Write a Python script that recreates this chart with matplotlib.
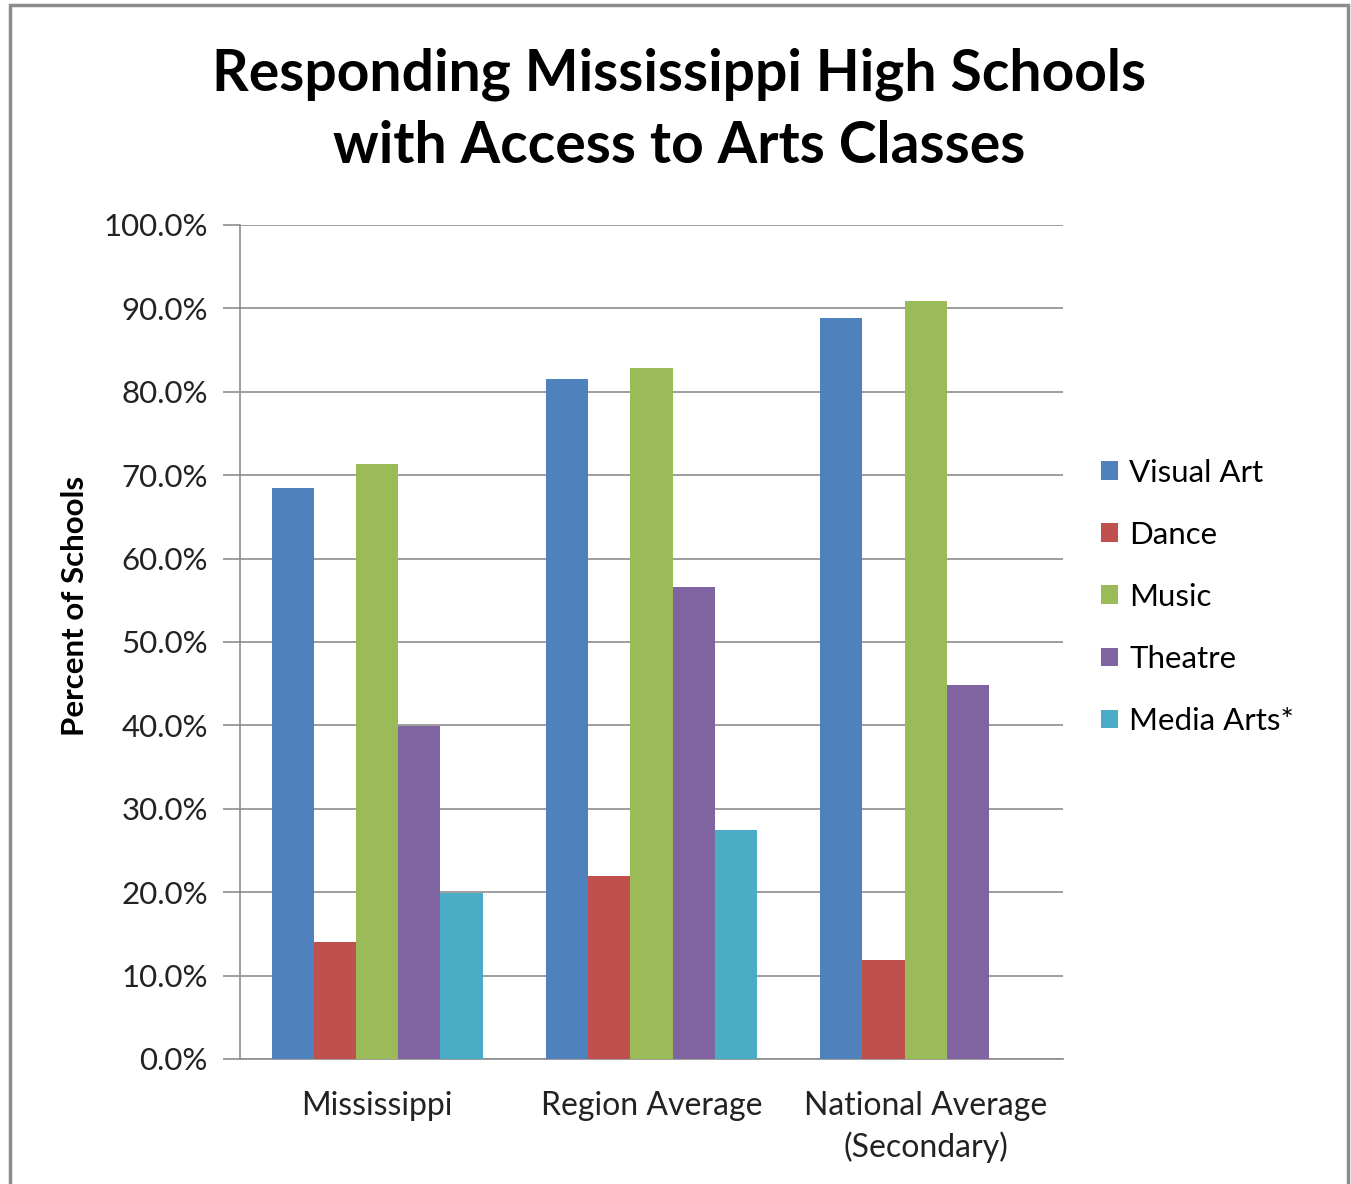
"""
Grouped bar chart: Mississippi high schools with access to arts classes.
"""

import numpy as np
import matplotlib.pyplot as plt
from matplotlib.patches import Rectangle

plt.rcParams["font.family"] = ["Lato", "DejaVu Sans"]

groups = ["Mississippi", "Region Average", "National Average\n(Secondary)"]
series = ["Visual Art", "Dance", "Music", "Theatre", "Media Arts*"]
visual_art = [68.5, 81.5, 88.8]
dance = [14.0, 21.9, 11.9]
music = [71.3, 82.9, 90.9]
theatre = [39.9, 56.6, 44.8]
media_arts = [19.9, 27.5, np.nan]

colors = ["#4f81bd", "#c0504d", "#9bbb59", "#8064a2", "#4bacc6"]
values = [visual_art, dance, music, theatre, media_arts]

fig = plt.figure(figsize=(13.51, 11.84), dpi=100)
ax = fig.add_axes([0.1776, 0.1056, 0.6092, 0.7044])

# outer chart border
fig.patches.append(Rectangle((10 / 1351, -0.05), 1338 / 1351, 1.046,
                             transform=fig.transFigure, fill=False,
                             edgecolor="#8c8c8c", lw=2.5))

x = np.arange(len(groups))
width = 1 / 6.5
for i, (name, vals) in enumerate(zip(series, values)):
    ax.bar(x + (i - 2) * width, vals, width, color=colors[i], label=name, zorder=3)

ax.set_xlim(-0.5, 2.5)
ax.set_ylim(0, 100)
ax.set_yticks(np.arange(0, 101, 10))
ax.set_yticklabels([f"{v:.1f}%" for v in np.arange(0, 101, 10)], fontsize=22.5,
                   color="#222222")
ax.set_xticks(x)
ax.set_xticklabels(groups, fontsize=23, color="#222222", linespacing=1.4)
ax.tick_params(axis="x", length=0, pad=23)
ax.tick_params(axis="y", length=12, color="#8c8c8c", width=1.2, pad=11)
ax.grid(axis="y", color="#8c8c8c", lw=1.2, zorder=0)
for side in ["top", "right"]:
    ax.spines[side].set_visible(False)
for side in ["left", "bottom"]:
    ax.spines[side].set_color("#8c8c8c")
    ax.spines[side].set_linewidth(1.2)

fig.text(75 / 1351, 1 - 606 / 1184, "Percent of Schools", rotation=90,
         ha="center", va="center", fontsize=22.5, fontweight="bold")

fig.text(0.5026, 0.907, "Responding Mississippi High Schools\nwith Access to Arts Classes",
         ha="center", va="center", fontsize=41, fontweight="bold", linespacing=1.44)

ax.legend(loc="center left", bbox_to_anchor=(1.012, 0.554), frameon=False,
          fontsize=22.5, handlelength=0.55, handleheight=0.55, handletextpad=0.35,
          labelspacing=1.09)

plt.savefig("out.png", dpi=100)
